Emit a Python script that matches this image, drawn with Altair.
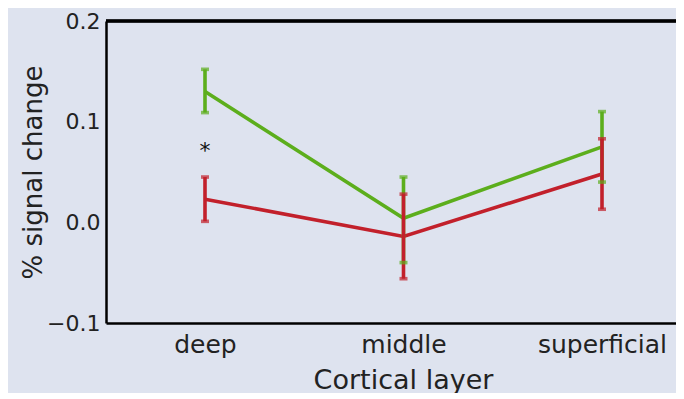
import altair as alt
import pandas as pd

layers = ["deep", "middle", "superficial"]
green_mean = [0.130, 0.004, 0.075]
green_lo = [0.109, -0.040, 0.040]
green_hi = [0.152, 0.045, 0.110]
red_mean = [0.023, -0.014, 0.048]
red_lo = [0.001, -0.056, 0.013]
red_hi = [0.045, 0.028, 0.083]
star_layer = ["deep"]
star_value = [0.075]

GREEN = "#5cae1c"
RED = "#c2202b"
BG = "#dee3ef"
FONT = "DejaVu Sans"

rows = []
for s, m, lo, hi in [("green", green_mean, green_lo, green_hi), ("red", red_mean, red_lo, red_hi)]:
    for i, l in enumerate(layers):
        rows.append({"series": s, "xi": i, "layer": l, "mean": m[i], "lo": lo[i], "hi": hi[i]})
df = pd.DataFrame(rows)
star_df = pd.DataFrame({"xi": [layers.index(l) for l in star_layer], "v": star_value,
                        "t": ["*"] * len(star_layer)})

W, H = 570, 302
xscale = alt.Scale(domain=[-0.4987, 2.3728], nice=False, zero=False)
yscale = alt.Scale(domain=[-0.1, 0.2], nice=False, zero=False)
color = alt.Color("series:N", scale=alt.Scale(domain=["green", "red"], range=[GREEN, RED]), legend=None)
label_expr = "[" + ",".join("'%s'" % l for l in layers) + "][datum.value]"

x_enc = alt.X("xi:Q", scale=xscale,
              axis=alt.Axis(title="Cortical layer", values=list(range(len(layers))), labelExpr=label_expr,
                            ticks=False, domainColor="#000", domainWidth=2.5, labelFontSize=25,
                            titleFontSize=27, labelPadding=9, labelBaseline="top",
                            titleX=297, titleY=57, titleBaseline="middle",
                            labelColor="#222", titleColor="#222", titleFontWeight="normal", grid=False))
y_enc = alt.Y("mean:Q", scale=yscale,
              axis=alt.Axis(title="% signal change", values=[-0.1, 0.0, 0.1, 0.2],
                            format=".1f", ticks=False, domainColor="#000", domainWidth=2.5,
                            labelFontSize=22, titleFontSize=26, labelPadding=6,
                            titleX=-73, titleBaseline="middle",
                            labelColor="#222", titleColor="#222", titleFontWeight="normal", grid=False))

xq = alt.X("xi:Q", scale=xscale)
base = alt.Chart(df)
lines = base.mark_line(strokeWidth=3.6).encode(x=x_enc, y=y_enc, color=color, detail="series:N")
bars = base.mark_rule(strokeWidth=3.6).encode(x=xq, y=alt.Y("lo:Q", scale=yscale), y2="hi:Q", color=color)
cap_lo = base.mark_tick(size=8, thickness=3.6, orient="horizontal").encode(
    x=xq, y=alt.Y("lo:Q", scale=yscale), color=color)
cap_hi = base.mark_tick(size=8, thickness=3.6, orient="horizontal").encode(
    x=xq, y=alt.Y("hi:Q", scale=yscale), color=color)
star = alt.Chart(star_df).mark_text(fontSize=22, font=FONT, color="#111", baseline="middle", dy=4).encode(
    x=xq, y=alt.Y("v:Q", scale=yscale), text="t:N")
top = alt.Chart(df).mark_rule(color="#000", strokeWidth=2.5).encode(
    x=alt.value(0), x2=alt.value(W), y=alt.value(0))

chart = alt.layer(top, lines, bars, cap_lo, cap_hi, star).properties(
    width=W, height=H, background=BG,
    padding={"left": 98, "top": 13, "right": 0, "bottom": 70},
    autosize=alt.AutoSizeParams(type="none"),
).configure_view(stroke=None).configure_axis(labelFont=FONT, titleFont=FONT)

chart.save("out.html", embed_options={"renderer": "svg", "actions": False})
